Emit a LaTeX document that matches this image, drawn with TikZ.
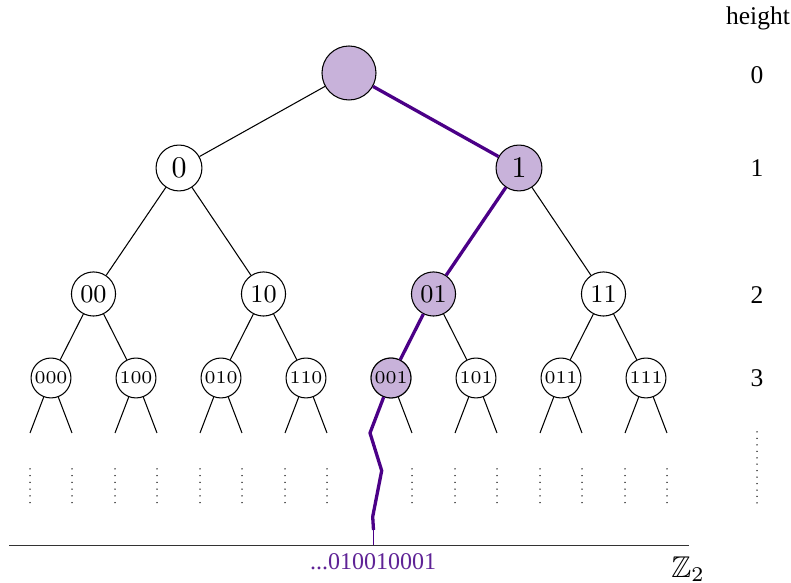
\documentclass[tikz,border=0pt]{standalone}
\usepackage{fontspec}
\usepackage{amssymb}
\newfontfamily\lab{Liberation Serif}
\definecolor{pfill}{RGB}{200,178,218}
\definecolor{ppath}{RGB}{75,0,135}
\definecolor{plabel}{RGB}{95,35,150}
\begin{document}
\begin{tikzpicture}[x=0.33333pt,y=-0.33333pt,
  tn/.style={circle,draw,line width=0.35pt,inner sep=0pt,fill=white},
  lv0/.style={tn,minimum size=18pt},
  lv1/.style={tn,minimum size=15.3pt,font=\fontsize{10}{12}\selectfont},
  lv2/.style={tn,minimum size=14.7pt,font=\fontsize{8.5}{10}\selectfont},
  lv3/.style={tn,minimum size=13.3pt,font=\fontsize{6}{7}\selectfont},
  hl/.style={fill=pfill},
  edge/.style={line width=0.35pt},
  pedge/.style={line width=1.1pt,ppath},
  dots/.style={line width=0.5pt,black,line cap=round,dash pattern=on 0pt off 2.24pt},
  hdots/.style={line width=0.5pt,black,line cap=round,dash pattern=on 0pt off 2.15pt},
  htext/.style={font=\lab\fontsize{8.5}{10}\selectfont},
]
\useasboundingbox (0,0) rectangle (791,583);

% root and level 1
\node[lv0,hl] (r) at (349,73) {};
\node[lv1] (n0) at (179,168) {0};
\node[lv1,hl] (n1) at (519,168) {1};
% level 2
\node[lv2] (n00) at (93.5,294) {00};
\node[lv2] (n10) at (263.5,294) {10};
\node[lv2,hl] (n01) at (433.5,294) {01};
\node[lv2] (n11) at (603.5,294) {11};
% level 3
\foreach \nm [count=\i from 0] in {000,100,010,110,001,101,011,111}{
  \node[lv3] (n\nm) at ({51+85*\i},378) {\nm};
  \coordinate (l\nm) at ({51+85*\i-21},433);
  \coordinate (r\nm) at ({51+85*\i+21},433);
}
\node[lv3,hl] at (n001) {001};

% edges
\draw[edge] (r) -- (n0);
\draw[pedge] (r) -- (n1);
\draw[edge] (n0) -- (n00);
\draw[edge] (n0) -- (n10);
\draw[pedge] (n1) -- (n01);
\draw[edge] (n1) -- (n11);
\draw[edge] (n00) -- (n000);
\draw[edge] (n00) -- (n100);
\draw[edge] (n10) -- (n010);
\draw[edge] (n10) -- (n110);
\draw[pedge] (n01) -- (n001);
\draw[edge] (n01) -- (n101);
\draw[edge] (n11) -- (n011);
\draw[edge] (n11) -- (n111);

% stubs and dotted continuations
\foreach \nm in {000,100,010,110,001,101,011,111}{
  \draw[edge] (n\nm) -- (r\nm);
  \path (r\nm) ++(0,36) coordinate (ra\nm) ++(0,34) coordinate (rb\nm);
  \draw[dots] (ra\nm) -- (rb\nm);
}
\foreach \nm in {000,100,010,110,101,011,111}{
  \draw[edge] (n\nm) -- (l\nm);
  \path (l\nm) ++(0,36) coordinate (la\nm) ++(0,34) coordinate (lb\nm);
  \draw[dots] (la\nm) -- (lb\nm);
}

% purple path to the boundary
\coordinate (p1) at (381.7,470.7);
\coordinate (p2) at (372.7,516.7);
\coordinate (p3) at (373.5,530);
\coordinate (p4) at (373.5,545.3);
\draw[pedge,line join=round] (n001) -- (l001) -- (p1) -- (p2) -- (p3);
\draw[ppath,line width=0.35pt] (p3) -- (p4);

% boundary line
\coordinate (a1) at (9,545.3);
\coordinate (a2) at (689,545.3);
\draw[line width=0.5pt,black!80] (a1) -- (a2);
\node[text=plabel,font=\lab\fontsize{8}{9}\selectfont] (pt) at (373,562) {...010010001};
\node (z2) at (688,569) {$\mathbb{Z}_2$};

% height column
\node[htext] (h) at (758,18) {height};
\node[htext] (h0) at (757,75) {0};
\node[htext] (h1) at (757,168) {1};
\node[htext] (h2) at (757,295) {2};
\node[htext] (h3) at (757,378) {3};
\coordinate (hd1) at (757,432);
\coordinate (hd2) at (757,503);
\draw[hdots] (hd1) -- (hd2);
\end{tikzpicture}
\end{document}
